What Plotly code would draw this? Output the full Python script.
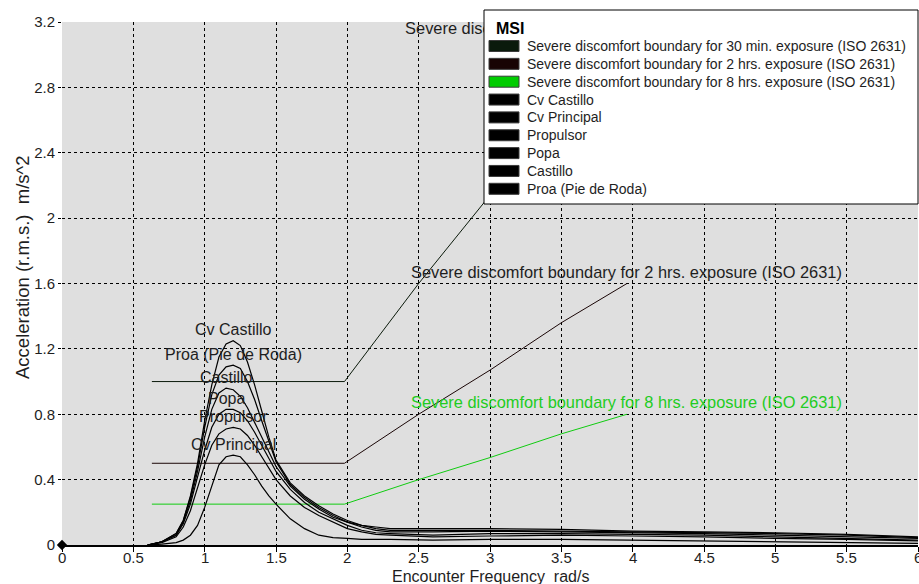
import plotly.graph_objects as go

# ---------------- data ----------------
freq = [0.6, 0.7, 0.8, 0.85, 0.9, 0.95, 1.0, 1.05, 1.1, 1.15, 1.2, 1.25, 1.3, 1.35,
        1.4, 1.45, 1.5, 1.6, 1.7, 1.8, 1.9, 2.0, 2.1, 2.2, 2.3,
        2.6, 3.0, 3.5, 4.0, 4.5, 5.0, 5.5, 6.0]

cv_castillo = [0, 0.02, 0.07, 0.15, 0.30, 0.50, 0.76, 0.98, 1.15, 1.23, 1.25, 1.22, 1.12, 0.98,
               0.82, 0.66, 0.52, 0.38, 0.30, 0.24, 0.19, 0.15, 0.12, 0.10, 0.09,
               0.09, 0.09, 0.085, 0.08, 0.075, 0.07, 0.06, 0.045]
cv_principal = [0, 0.005, 0.015, 0.03, 0.06, 0.12, 0.23, 0.36, 0.49, 0.54, 0.55, 0.54, 0.49, 0.43,
                0.36, 0.30, 0.25, 0.16, 0.10, 0.06, 0.045, 0.04, 0.035, 0.035, 0.035,
                0.03, 0.035, 0.035, 0.03, 0.025, 0.02, 0.015, 0.01]
propulsor = [0, 0.015, 0.05, 0.11, 0.21, 0.35, 0.49, 0.61, 0.68, 0.71, 0.72, 0.71, 0.67, 0.61,
             0.54, 0.47, 0.40, 0.30, 0.23, 0.18, 0.14, 0.10, 0.08, 0.065, 0.06,
             0.05, 0.055, 0.06, 0.055, 0.05, 0.04, 0.035, 0.025]
popa = [0, 0.02, 0.06, 0.13, 0.25, 0.41, 0.58, 0.72, 0.80, 0.83, 0.83, 0.81, 0.76, 0.69,
        0.61, 0.53, 0.45, 0.34, 0.26, 0.20, 0.16, 0.12, 0.09, 0.075, 0.07,
        0.06, 0.07, 0.07, 0.065, 0.06, 0.05, 0.04, 0.03]
castillo = [0, 0.02, 0.06, 0.14, 0.27, 0.45, 0.66, 0.83, 0.93, 0.96, 0.95, 0.91, 0.84, 0.75,
            0.66, 0.57, 0.48, 0.36, 0.28, 0.22, 0.17, 0.14, 0.12, 0.11, 0.10,
            0.10, 0.10, 0.095, 0.085, 0.08, 0.075, 0.065, 0.05]
proa = [0, 0.02, 0.07, 0.15, 0.29, 0.48, 0.72, 0.92, 1.04, 1.09, 1.10, 1.08, 1.00, 0.89,
        0.76, 0.63, 0.51, 0.37, 0.29, 0.23, 0.18, 0.14, 0.11, 0.09, 0.08,
        0.08, 0.085, 0.08, 0.075, 0.07, 0.06, 0.05, 0.04]

iso_freq = [0.63, 1.98, 2.5, 3.0, 3.5, 3.96]
iso_30min = [1.0, 1.0, 1.6, 2.14, 2.72, 3.2]
iso_2hrs = [0.5, 0.5, 0.80, 1.07, 1.36, 1.60]
iso_8hrs = [0.25, 0.25, 0.40, 0.535, 0.68, 0.80]

iso_names = ["Severe discomfort boundary for 30 min. exposure (ISO 2631)",
             "Severe discomfort boundary for 2 hrs. exposure (ISO 2631)",
             "Severe discomfort boundary for 8 hrs. exposure (ISO 2631)"]
curve_names = ["Cv Castillo", "Cv Principal", "Propulsor", "Popa", "Castillo", "Proa (Pie de Roda)"]
legend_title = "MSI"

x_ticks = [0, 0.5, 1, 1.5, 2, 2.5, 3, 3.5, 4, 4.5, 5, 5.5, 6]
x_tick_labels = ["0", "0.5", "1", "1.5", "2", "2.5", "3", "3.5", "4", "4.5", "5", "5.5", "6"]
y_ticks = [0, 0.4, 0.8, 1.2, 1.6, 2, 2.4, 2.8, 3.2]
y_tick_labels = ["0", "0.4", "0.8", "1.2", "1.6", "2", "2.4", "2.8", "3.2"]

# ---------------- styles ----------------
FONT = "Liberation Sans"
TXT = "#1e1e1e"
W, H = 919, 584
L, R, T, B = 62, 1, 22, 39
PW, PH = W - L - R, H - T - B


def px_x(p):
    return (p - L) / PW


def px_y(p):
    return (H - B - p) / PH


iso_series = [iso_30min, iso_2hrs, iso_8hrs]
iso_colors = ["#0b1a0b", "#1a0606", "#11cc11"]
iso_swatch = ["#0a1a0c", "#180404", "#00cc00"]
iso_label_colors = [TXT, TXT, "#22cc22"]
curve_series = [cv_castillo, cv_principal, propulsor, popa, castillo, proa]

fig = go.Figure()

for name, ys, col in zip(iso_names, iso_series, iso_colors):
    fig.add_trace(go.Scatter(x=iso_freq, y=ys, mode="lines", name=name,
                             line=dict(color=col, width=1), showlegend=False))
for name, ys in zip(curve_names, curve_series):
    fig.add_trace(go.Scatter(x=freq, y=ys, mode="lines", name=name,
                             line=dict(color="black", width=1.2), showlegend=False))

# 30-min label as trace text (sits beneath the legend box, as in the original)
fig.add_trace(go.Scatter(x=[iso_freq[-1]], y=[iso_30min[-1]], mode="text",
                         text=[iso_names[0]], textposition="bottom center",
                         textfont=dict(family=FONT, size=16.4, color=TXT),
                         showlegend=False, cliponaxis=False))

# origin marker
fig.add_trace(go.Scatter(x=[0], y=[0], mode="markers", showlegend=False,
                         marker=dict(symbol="diamond", size=8, color="black"),
                         cliponaxis=False))

annotations = []
for name, ys in zip(curve_names, curve_series):
    i = ys.index(max(ys))
    annotations.append(dict(x=freq[i], y=ys[i], text=name, showarrow=False, yshift=11,
                            font=dict(family=FONT, size=16, color=TXT)))
for name, ys, col in list(zip(iso_names, iso_series, iso_label_colors))[1:]:
    annotations.append(dict(x=iso_freq[-1], y=ys[-1], text=name, showarrow=False,
                            yshift=12, font=dict(family=FONT, size=16.4, color=col)))

# x tick labels (placed close under the axis, as in the original)
for v, s in zip(x_ticks, x_tick_labels):
    annotations.append(dict(x=v, xref="x", yref="paper", y=px_y(557), text=s,
                            showarrow=False, xanchor="center", yanchor="middle",
                            font=dict(family=FONT, size=15, color=TXT)))

# axis titles
annotations.append(dict(xref="paper", yref="paper", x=0.5, y=px_y(576),
                        text="Encounter Frequency  rad/s", showarrow=False,
                        xanchor="center", yanchor="middle",
                        font=dict(family=FONT, size=16, color=TXT)))
annotations.append(dict(xref="paper", yref="paper", x=px_x(22), y=px_y(267),
                        text="Acceleration (r.m.s.)  m/s^2", showarrow=False, textangle=-90,
                        xanchor="center", yanchor="middle",
                        font=dict(family=FONT, size=18.5, color=TXT)))

# ---------------- legend box ----------------
shapes = [dict(type="rect", xref="paper", yref="paper", layer="above",
               x0=px_x(484), x1=px_x(918), y0=px_y(204), y1=px_y(10),
               fillcolor="white", line=dict(color="black", width=1))]
annotations.append(dict(xref="paper", yref="paper", x=px_x(494), y=px_y(28),
                        text="<b>" + legend_title + "</b>", showarrow=False,
                        xanchor="left", yanchor="middle",
                        font=dict(family=FONT, size=16, color="black")))
entries = list(zip(iso_names, iso_swatch)) + [(n, "black") for n in curve_names]
for k, (name, col) in enumerate(entries):
    cy = 46 + 17.85 * k
    shapes.append(dict(type="rect", xref="paper", yref="paper", layer="above",
                       x0=px_x(489), x1=px_x(519), y0=px_y(cy + 5.5), y1=px_y(cy - 5.5),
                       fillcolor=col, line=dict(color="#3a3a3a", width=1)))
    annotations.append(dict(xref="paper", yref="paper", x=px_x(524.5), y=px_y(cy),
                            text=name, showarrow=False, xanchor="left", yanchor="middle",
                            font=dict(family=FONT, size=14, color=TXT)))

fig.update_layout(
    width=W, height=H,
    margin=dict(l=L, r=R, t=T, b=B),
    paper_bgcolor="white", plot_bgcolor="#dfdfdf",
    font=dict(family=FONT, size=15, color=TXT),
    annotations=annotations, shapes=shapes,
    showlegend=False,
    xaxis=dict(range=[0, 6], tickvals=x_ticks, showticklabels=False,
               showgrid=True, gridcolor="black", griddash="3px,3px", gridwidth=1,
               showline=True, linecolor="black", linewidth=1.5, zeroline=False,
               ticks="outside", ticklen=5, tickcolor="black", automargin=False),
    yaxis=dict(range=[0, 3.2], tickvals=y_ticks, ticktext=y_tick_labels,
               showgrid=True, gridcolor="black", griddash="3px,3px", gridwidth=1,
               zeroline=False, showline=False, automargin=False,
               ticks="outside", ticklen=3, tickcolor="black",
               tickfont=dict(family=FONT, size=15, color=TXT)),
)

fig.write_html("out.html", config={"displayModeBar": False},
               post_script="document.body.style.margin='0';document.body.style.overflow='hidden';")
